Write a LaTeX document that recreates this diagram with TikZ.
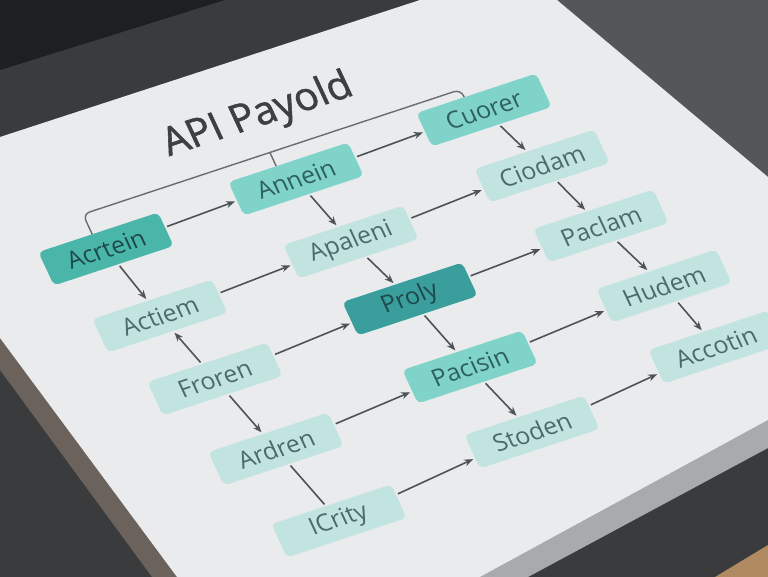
\documentclass[tikz,border=0pt]{standalone}
\usepackage{fontspec}
\setmainfont{Open Sans}
\newfontfamily\titlefont{Open Sans}[FakeBold=1.4]
\usetikzlibrary{arrows.meta,calc,positioning}
\definecolor{desk}{HTML}{3A3B3D}
\definecolor{deskhi}{HTML}{55565A}
\definecolor{keyb}{HTML}{1E1F21}
\definecolor{paper}{HTML}{EAEBED}
\definecolor{edgeL}{HTML}{6B625C}
\definecolor{edgeR}{HTML}{A9AAAC}
\definecolor{wood}{HTML}{B08A60}
\definecolor{tealdeep}{HTML}{3A9E9C}
\definecolor{tealbold}{HTML}{4AB6AA}
\definecolor{tealmid}{HTML}{7FD3C8}
\definecolor{tealpale}{HTML}{C2E4E1}
\definecolor{inkdeep}{HTML}{1F4A4B}
\definecolor{inkmid}{HTML}{2F6060}
\definecolor{inkpale}{HTML}{4A6B6D}
\definecolor{linkgray}{HTML}{4D5356}
\definecolor{titlegray}{HTML}{3C4043}
\tikzset{
	x=1pt,
	y=-1pt,
	>={Stealth[length=9pt,width=7pt]},
	persp/.style={cm={0.950,0.314,-0.419,0.903,(0,0)}},
	flowbox/.style={
		persp,
		rounded corners=5pt,
		minimum width=126pt,
		minimum height=37pt,
		inner sep=0pt,
		font=\fontsize{24.5}{28}\selectfont
	},
	boxdeep/.style={flowbox, fill=tealdeep, text=inkdeep},
	boxbold/.style={flowbox, fill=tealbold, text=inkdeep},
	boxmid/.style={flowbox, fill=tealmid, text=inkmid},
	boxpale/.style={flowbox, fill=tealpale, text=inkpale},
	link/.style={draw=linkgray, line width=1.6pt, shorten >=2pt, shorten <=2pt},
	arrto/.style={link, ->},
	arrfrom/.style={link, <-},
	plain/.style={link, -},
	bus/.style={draw=linkgray!85, line width=1.4pt, rounded corners=7pt}
}
\begin{document}
\begin{tikzpicture}
	\useasboundingbox (0,0) rectangle (768,577);
	% desk, keyboard and paper
	\fill[desk] (0,0) rectangle (768,577);
	\fill[deskhi] (557,0) -- (768,0) -- (768,177) -- cycle;
	\fill[keyb] (0,0) -- (225,0) -- (0,70) -- cycle;
	\fill[wood] (715,577) -- (768,545) -- (768,577) -- cycle;
	\fill[edgeL] (0,338) -- (177,577) -- (152,577) -- (0,370) -- cycle;
	\fill[edgeR] (768,420) -- (480,577) -- (528,577) -- (768,448) -- cycle;
	\fill[paper] (0,137) -- (420,0) -- (557,0) -- (768,177) -- (768,420) -- (480,577) -- (177,577) -- (0,338) -- cycle;

	\node [persp, text=titlegray, font=\titlefont\fontsize{40}{46}\selectfont] (title) at (258,116) {API Payold};

	% boxes and links
	\node [boxbold] (Acrtein) at (106,249) {Acrtein};
	\node [boxmid]  (Annein)  at (296,179) {Annein}
	edge [arrfrom] (Acrtein);
	\node [boxmid]  (Cuorer)  at (484,110) {Cuorer}
	edge [arrfrom] (Annein);
	\node [boxpale] (Actiem)  at (160,316) {Actiem}
	edge [arrfrom] (Acrtein);
	\node [boxpale] (Apaleni) at (351,242) {Apaleni}
	edge [arrfrom] (Annein)
	edge [arrfrom] (Actiem);
	\node [boxpale] (Ciodam)  at (542,166) {Ciodam}
	edge [arrfrom] (Cuorer)
	edge [arrfrom] (Apaleni);
	\node [boxdeep] (Proly)   at (410,299) {Proly}
	edge [arrfrom] (Apaleni);
	\node [boxpale] (Paclam)  at (601,226) {Paclam}
	edge [arrfrom] (Ciodam)
	edge [arrfrom] (Proly);
	\node [boxpale] (Froren)  at (215,379) {Froren}
	edge [arrto] (Actiem)
	edge [arrto] (Proly);
	\node [boxpale] (Hudem)   at (664,286) {Hudem}
	edge [arrfrom] (Paclam);
	\node [boxmid]  (Pacisin) at (470,367) {Pacisin}
	edge [arrfrom] (Proly)
	edge [arrto] (Hudem);
	\node [boxpale] (Ardren)  at (276,449) {Ardren}
	edge [arrfrom] (Froren)
	edge [arrto] (Pacisin);
	\node [boxpale] (Accotin) at (716,347) {Accotin}
	edge [arrfrom] (Hudem);
	\node [boxpale] (Stoden)  at (532,432) {Stoden}
	edge [arrfrom] (Pacisin)
	edge [arrto] (Accotin);
	\node [boxpale] (ICrity)  at (339,521) {ICrity}
	edge [plain] (Ardren)
	edge [arrto] (Stoden);

	% bus over the top row
	\coordinate (busA) at ($(Acrtein.north west)!0.45!(Acrtein.north east)$);
	\coordinate (busB) at ($(Cuorer.north west)!0.4!(Cuorer.north east)$);
	\coordinate (busC) at ($(Annein.north west)!0.4!(Annein.north east)$);
	\draw [bus] (busA) -- ($(busA)+(-9.2,-19.9)$) -- ($(busB)+(-3.5,-7.6)$) -- (busB);
	\draw [bus] (busC) -- ($(busC)+(-6.2,-13.5)$);
\end{tikzpicture}
\end{document}
